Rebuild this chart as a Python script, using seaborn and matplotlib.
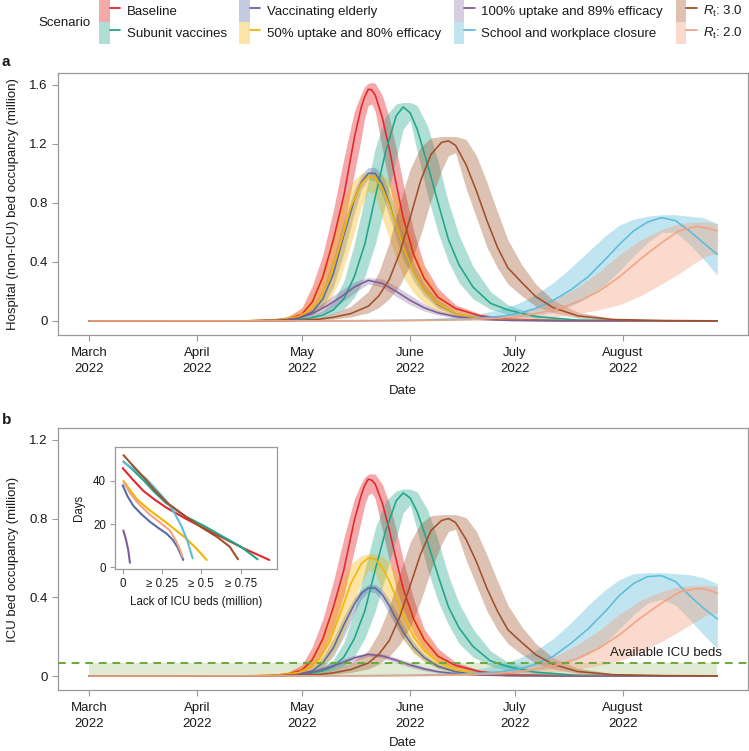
import numpy as np
import pandas as pd
import matplotlib
matplotlib.use("Agg")
import matplotlib.pyplot as plt
import seaborn as sns
from matplotlib.patches import Patch
from matplotlib.lines import Line2D
from matplotlib.legend_handler import HandlerTuple

# ---------------- data ----------------
scenarios = ["Baseline", "Subunit vaccines", "Vaccinating elderly",
             "50% uptake and 80% efficacy", "100% uptake and 89% efficacy",
             "School and workplace closure", "Rt: 3.0", "Rt: 2.0"]
legend_labels = ["Baseline", "Subunit vaccines", "Vaccinating elderly",
                 "50% uptake and 80% efficacy", "100% uptake and 89% efficacy",
                 "School and workplace closure", r"$R_\mathrm{t}$: 3.0", r"$R_\mathrm{t}$: 2.0"]
colors = {"Baseline": "#E4262C", "Subunit vaccines": "#1FA68A",
          "Vaccinating elderly": "#5A6CA6", "50% uptake and 80% efficacy": "#F4B400",
          "100% uptake and 89% efficacy": "#7E5C98", "School and workplace closure": "#5DBCD9",
          "Rt: 3.0": "#A0502A", "Rt: 2.0": "#F2A383"}
band_alpha = {"Baseline": 0.4, "Subunit vaccines": 0.36, "Vaccinating elderly": 0.35,
              "50% uptake and 80% efficacy": 0.35, "100% uptake and 89% efficacy": 0.3,
              "School and workplace closure": 0.38, "Rt: 3.0": 0.35, "Rt: 2.0": 0.4}

start_date = "2022-03-01"
month_ticks = ["2022-03-01", "2022-04-01", "2022-05-01", "2022-06-01", "2022-07-01", "2022-08-01"]
month_labels = ["March\n2022", "April\n2022", "May\n2022", "June\n2022", "July\n2022", "August\n2022"]
icu_capacity = 0.065

# Baseline
days_base = [0, 45, 52, 57, 61, 64, 67, 70, 73, 76, 78, 79, 80, 81, 82, 84, 86, 88, 90, 93, 96, 100, 105, 112, 120, 135, 160, 180]
hosp_base = [0, 0, 0.005, 0.015, 0.045, 0.13, 0.30, 0.55, 0.85, 1.24, 1.45, 1.52, 1.57, 1.565, 1.53, 1.38, 1.17, 0.93, 0.70, 0.45, 0.29, 0.16, 0.085, 0.035, 0.012, 0.003, 0.001, 0]
hosp_base_lo = [0, 0, 0.003, 0.01, 0.025, 0.07, 0.19, 0.38, 0.64, 1.0, 1.24, 1.38, 1.46, 1.47, 1.42, 1.17, 0.93, 0.70, 0.53, 0.34, 0.21, 0.12, 0.065, 0.025, 0.008, 0.001, 0, 0]
hosp_base_hi = [0, 0.002, 0.008, 0.03, 0.09, 0.24, 0.45, 0.75, 1.1, 1.42, 1.54, 1.59, 1.61, 1.615, 1.61, 1.53, 1.38, 1.17, 0.93, 0.61, 0.38, 0.22, 0.11, 0.048, 0.018, 0.005, 0.002, 0.001]
icu_base = [0, 0, 0.003, 0.01, 0.03, 0.083, 0.19, 0.35, 0.54, 0.79, 0.92, 0.97, 1.0, 0.995, 0.975, 0.88, 0.745, 0.59, 0.445, 0.29, 0.185, 0.10, 0.054, 0.022, 0.008, 0.002, 0.001, 0]
icu_base_lo = [0, 0, 0.002, 0.006, 0.016, 0.045, 0.12, 0.24, 0.41, 0.64, 0.79, 0.87, 0.92, 0.93, 0.90, 0.745, 0.59, 0.445, 0.34, 0.215, 0.135, 0.075, 0.04, 0.016, 0.005, 0.001, 0, 0]
icu_base_hi = [0, 0.001, 0.005, 0.02, 0.057, 0.15, 0.29, 0.48, 0.70, 0.90, 0.98, 1.01, 1.025, 1.028, 1.025, 0.975, 0.88, 0.745, 0.59, 0.39, 0.24, 0.14, 0.07, 0.03, 0.011, 0.003, 0.001, 0.001]

# Subunit vaccines
days_sub = [0, 50, 58, 63, 67, 70, 73, 76, 79, 82, 85, 88, 90, 92, 94, 97, 100, 103, 106, 110, 115, 120, 128, 140, 160, 180]
hosp_sub = [0, 0.001, 0.006, 0.018, 0.04, 0.075, 0.15, 0.30, 0.52, 0.84, 1.15, 1.39, 1.45, 1.41, 1.30, 1.06, 0.80, 0.55, 0.38, 0.23, 0.12, 0.075, 0.03, 0.006, 0.001, 0]
hosp_sub_lo = [0, 0, 0.003, 0.01, 0.025, 0.045, 0.08, 0.16, 0.30, 0.52, 0.80, 1.10, 1.30, 1.36, 1.15, 0.85, 0.60, 0.40, 0.26, 0.15, 0.08, 0.045, 0.015, 0.003, 0, 0]
hosp_sub_hi = [0, 0.003, 0.012, 0.03, 0.07, 0.13, 0.27, 0.52, 0.84, 1.17, 1.39, 1.47, 1.48, 1.48, 1.46, 1.32, 1.08, 0.80, 0.58, 0.37, 0.20, 0.11, 0.04, 0.01, 0.002, 0.001]
icu_sub = [0, 0.001, 0.004, 0.012, 0.026, 0.048, 0.096, 0.19, 0.33, 0.54, 0.74, 0.89, 0.93, 0.905, 0.835, 0.68, 0.51, 0.35, 0.245, 0.15, 0.077, 0.048, 0.019, 0.004, 0.001, 0]
icu_sub_lo = [0, 0, 0.002, 0.006, 0.016, 0.029, 0.051, 0.10, 0.19, 0.33, 0.51, 0.70, 0.83, 0.87, 0.74, 0.54, 0.38, 0.26, 0.166, 0.096, 0.051, 0.029, 0.01, 0.002, 0, 0]
icu_sub_hi = [0, 0.002, 0.008, 0.019, 0.045, 0.083, 0.17, 0.33, 0.54, 0.75, 0.89, 0.94, 0.95, 0.95, 0.935, 0.845, 0.69, 0.51, 0.37, 0.24, 0.128, 0.07, 0.026, 0.006, 0.001, 0.001]

# Vaccinating elderly
days_eld = [0, 45, 55, 60, 64, 67, 70, 73, 76, 78, 80, 82, 84, 86, 88, 90, 93, 96, 100, 105, 112, 120, 140, 180]
hosp_eld = [0, 0, 0.006, 0.02, 0.06, 0.15, 0.32, 0.58, 0.82, 0.94, 1.0, 1.0, 0.93, 0.80, 0.65, 0.50, 0.33, 0.21, 0.11, 0.05, 0.018, 0.006, 0.001, 0]
hosp_eld_lo = [0, 0, 0.004, 0.014, 0.04, 0.10, 0.23, 0.46, 0.73, 0.89, 0.96, 0.95, 0.85, 0.71, 0.56, 0.42, 0.27, 0.17, 0.085, 0.038, 0.013, 0.004, 0, 0]
hosp_eld_hi = [0, 0.001, 0.009, 0.03, 0.09, 0.22, 0.42, 0.68, 0.89, 0.99, 1.04, 1.04, 0.99, 0.88, 0.73, 0.58, 0.39, 0.25, 0.14, 0.065, 0.024, 0.008, 0.002, 0.001]
icu_eld = [0, 0, 0.003, 0.009, 0.027, 0.067, 0.143, 0.26, 0.365, 0.42, 0.447, 0.447, 0.415, 0.357, 0.29, 0.223, 0.147, 0.094, 0.049, 0.022, 0.008, 0.003, 0, 0]
icu_eld_lo = [0, 0, 0.002, 0.006, 0.018, 0.045, 0.10, 0.20, 0.32, 0.39, 0.428, 0.424, 0.38, 0.315, 0.25, 0.187, 0.12, 0.076, 0.038, 0.017, 0.006, 0.002, 0, 0]
icu_eld_hi = [0, 0.001, 0.004, 0.013, 0.04, 0.10, 0.19, 0.305, 0.40, 0.44, 0.465, 0.465, 0.44, 0.39, 0.325, 0.258, 0.174, 0.112, 0.062, 0.029, 0.011, 0.004, 0.001, 0]

# 50% uptake and 80% efficacy
days_half = [0, 45, 55, 60, 63, 66, 69, 72, 75, 78, 80, 82, 84, 86, 88, 90, 93, 96, 100, 105, 112, 120, 140, 180]
hosp_half = [0, 0.001, 0.01, 0.03, 0.07, 0.14, 0.29, 0.52, 0.77, 0.93, 0.98, 0.97, 0.90, 0.79, 0.65, 0.50, 0.33, 0.21, 0.115, 0.05, 0.017, 0.005, 0.001, 0]
hosp_half_lo = [0, 0, 0.005, 0.016, 0.035, 0.07, 0.14, 0.29, 0.52, 0.77, 0.88, 0.86, 0.70, 0.56, 0.42, 0.30, 0.19, 0.12, 0.065, 0.028, 0.009, 0.003, 0, 0]
hosp_half_hi = [0, 0.003, 0.02, 0.06, 0.14, 0.29, 0.52, 0.77, 0.93, 1.0, 1.01, 1.01, 0.99, 0.95, 0.86, 0.73, 0.53, 0.35, 0.19, 0.085, 0.03, 0.01, 0.002, 0.001]
icu_half = [0, 0.001, 0.006, 0.018, 0.043, 0.086, 0.177, 0.318, 0.47, 0.57, 0.60, 0.594, 0.55, 0.483, 0.398, 0.306, 0.20, 0.128, 0.07, 0.031, 0.01, 0.003, 0.001, 0]
icu_half_lo = [0, 0, 0.003, 0.01, 0.021, 0.043, 0.086, 0.177, 0.318, 0.47, 0.54, 0.527, 0.43, 0.343, 0.257, 0.184, 0.116, 0.073, 0.04, 0.017, 0.006, 0.002, 0, 0]
icu_half_hi = [0, 0.002, 0.012, 0.037, 0.086, 0.177, 0.318, 0.47, 0.57, 0.612, 0.62, 0.62, 0.606, 0.58, 0.526, 0.447, 0.324, 0.214, 0.116, 0.052, 0.018, 0.006, 0.001, 0.001]

# 100% uptake and 89% efficacy
days_full = [0, 45, 55, 60, 64, 68, 72, 76, 80, 84, 88, 92, 96, 100, 105, 112, 120, 140, 180]
hosp_full = [0, 0.001, 0.006, 0.02, 0.05, 0.10, 0.16, 0.23, 0.275, 0.255, 0.20, 0.14, 0.09, 0.055, 0.03, 0.012, 0.004, 0.001, 0]
hosp_full_lo = [0, 0, 0.003, 0.012, 0.03, 0.065, 0.12, 0.19, 0.25, 0.23, 0.165, 0.11, 0.068, 0.04, 0.02, 0.008, 0.002, 0, 0]
hosp_full_hi = [0, 0.002, 0.01, 0.03, 0.075, 0.14, 0.205, 0.265, 0.295, 0.285, 0.235, 0.175, 0.117, 0.074, 0.042, 0.018, 0.007, 0.002, 0.001]
icu_full = [0, 0, 0.002, 0.008, 0.02, 0.04, 0.064, 0.092, 0.11, 0.102, 0.08, 0.056, 0.036, 0.022, 0.012, 0.005, 0.002, 0, 0]
icu_full_lo = [0, 0, 0.001, 0.005, 0.012, 0.026, 0.048, 0.076, 0.10, 0.092, 0.066, 0.044, 0.027, 0.016, 0.008, 0.003, 0.001, 0, 0]
icu_full_hi = [0, 0.001, 0.004, 0.012, 0.03, 0.056, 0.082, 0.106, 0.118, 0.114, 0.094, 0.07, 0.047, 0.03, 0.017, 0.007, 0.003, 0.001, 0]

# School and workplace closure
days_close = [0, 60, 80, 95, 105, 112, 118, 123, 128, 133, 138, 143, 148, 152, 156, 160, 164, 168, 172, 176, 180]
hosp_close = [0, 0.001, 0.002, 0.005, 0.011, 0.02, 0.032, 0.05, 0.085, 0.14, 0.21, 0.30, 0.42, 0.52, 0.61, 0.67, 0.70, 0.68, 0.61, 0.53, 0.45]
hosp_close_lo = [0, 0, 0.001, 0.002, 0.004, 0.008, 0.013, 0.02, 0.035, 0.06, 0.10, 0.16, 0.25, 0.34, 0.44, 0.53, 0.60, 0.60, 0.52, 0.42, 0.31]
hosp_close_hi = [0, 0.002, 0.005, 0.012, 0.03, 0.05, 0.08, 0.12, 0.18, 0.26, 0.36, 0.47, 0.58, 0.65, 0.69, 0.71, 0.72, 0.72, 0.71, 0.70, 0.66]
icu_close = [0, 0.001, 0.002, 0.004, 0.008, 0.014, 0.022, 0.035, 0.06, 0.10, 0.165, 0.24, 0.33, 0.41, 0.47, 0.505, 0.51, 0.48, 0.41, 0.345, 0.29]
icu_close_lo = [0, 0, 0.001, 0.002, 0.003, 0.006, 0.01, 0.015, 0.025, 0.042, 0.07, 0.11, 0.17, 0.24, 0.31, 0.37, 0.39, 0.36, 0.29, 0.21, 0.14]
icu_close_hi = [0, 0.002, 0.004, 0.01, 0.022, 0.038, 0.06, 0.09, 0.13, 0.19, 0.27, 0.36, 0.44, 0.49, 0.52, 0.525, 0.525, 0.52, 0.515, 0.50, 0.47]

# Rt 3.0
days_rt3 = [0, 50, 60, 66, 70, 75, 80, 83, 86, 89, 92, 95, 98, 101, 103, 105, 108, 111, 114, 117, 120, 124, 128, 133, 140, 150, 165, 180]
hosp_rt3 = [0, 0.001, 0.004, 0.012, 0.025, 0.05, 0.10, 0.17, 0.28, 0.46, 0.70, 0.95, 1.13, 1.21, 1.22, 1.19, 1.06, 0.88, 0.68, 0.50, 0.36, 0.26, 0.165, 0.09, 0.035, 0.01, 0.003, 0.001]
hosp_rt3_lo = [0, 0, 0.002, 0.006, 0.013, 0.027, 0.055, 0.09, 0.15, 0.24, 0.38, 0.58, 0.82, 1.02, 1.12, 1.14, 0.90, 0.70, 0.50, 0.36, 0.25, 0.17, 0.10, 0.055, 0.02, 0.005, 0.001, 0]
hosp_rt3_hi = [0, 0.003, 0.01, 0.025, 0.05, 0.10, 0.20, 0.33, 0.53, 0.80, 1.03, 1.18, 1.24, 1.25, 1.25, 1.25, 1.23, 1.12, 0.94, 0.74, 0.55, 0.38, 0.25, 0.14, 0.06, 0.018, 0.005, 0.002]
icu_rt3 = [0, 0.001, 0.003, 0.008, 0.016, 0.033, 0.066, 0.11, 0.18, 0.30, 0.46, 0.62, 0.74, 0.79, 0.80, 0.78, 0.695, 0.58, 0.445, 0.33, 0.235, 0.17, 0.108, 0.059, 0.023, 0.007, 0.002, 0.001]
icu_rt3_lo = [0, 0, 0.001, 0.004, 0.009, 0.018, 0.036, 0.06, 0.10, 0.16, 0.25, 0.38, 0.54, 0.67, 0.735, 0.745, 0.59, 0.46, 0.33, 0.235, 0.165, 0.11, 0.066, 0.036, 0.013, 0.003, 0.001, 0]
icu_rt3_hi = [0, 0.002, 0.007, 0.016, 0.033, 0.066, 0.13, 0.22, 0.35, 0.52, 0.68, 0.775, 0.815, 0.82, 0.82, 0.82, 0.805, 0.735, 0.615, 0.485, 0.36, 0.25, 0.165, 0.092, 0.04, 0.012, 0.003, 0.001]

# Rt 2.0
days_rt2 = [0, 60, 80, 95, 105, 112, 118, 123, 128, 134, 140, 146, 152, 158, 164, 169, 174, 177, 180]
hosp_rt2 = [0, 0.001, 0.002, 0.004, 0.008, 0.013, 0.02, 0.03, 0.05, 0.08, 0.13, 0.20, 0.30, 0.42, 0.53, 0.61, 0.64, 0.63, 0.61]
hosp_rt2_lo = [0, 0, 0.001, 0.002, 0.003, 0.005, 0.008, 0.012, 0.02, 0.03, 0.05, 0.075, 0.11, 0.17, 0.25, 0.32, 0.40, 0.44, 0.46]
hosp_rt2_hi = [0, 0.002, 0.004, 0.008, 0.016, 0.026, 0.04, 0.06, 0.095, 0.15, 0.23, 0.33, 0.45, 0.55, 0.62, 0.66, 0.67, 0.67, 0.66]
icu_rt2 = [0, 0.001, 0.001, 0.003, 0.006, 0.009, 0.014, 0.021, 0.035, 0.056, 0.09, 0.14, 0.21, 0.295, 0.37, 0.425, 0.445, 0.44, 0.42]
icu_rt2_lo = [0, 0, 0.001, 0.001, 0.002, 0.004, 0.006, 0.008, 0.014, 0.021, 0.035, 0.053, 0.077, 0.12, 0.175, 0.225, 0.28, 0.31, 0.32]
icu_rt2_hi = [0, 0.001, 0.003, 0.006, 0.011, 0.018, 0.028, 0.042, 0.066, 0.105, 0.16, 0.23, 0.315, 0.385, 0.43, 0.455, 0.46, 0.46, 0.455]

# Inset: days with lack of ICU beds above threshold
lack_base = [0.0, 0.06, 0.13, 0.2, 0.28, 0.4, 0.52, 0.64, 0.76, 0.85, 0.932]
lackdays_base = [46, 41, 35.5, 31.5, 27.5, 22.5, 18, 13.5, 9, 6, 3.3]
lack_sub = [0.005, 0.06, 0.13, 0.2, 0.28, 0.4, 0.52, 0.64, 0.75, 0.858]
lackdays_sub = [49, 45.5, 40.5, 35, 29.5, 23.5, 19, 14, 9.5, 3.6]
lack_eld = [0.0, 0.03, 0.067, 0.12, 0.174, 0.23, 0.28, 0.32, 0.35, 0.385]
lackdays_eld = [38, 33, 28.5, 24.5, 21, 18, 15.5, 12.5, 9, 3.3]
lack_half = [0.005, 0.04, 0.09, 0.17, 0.28, 0.4, 0.47, 0.534]
lackdays_half = [40, 36.5, 31.5, 26.5, 20.5, 13.5, 8.5, 3.3]
lack_full = [0.004, 0.02, 0.035, 0.046]
lackdays_full = [17, 13, 8, 2]
lack_close = [0.01, 0.08, 0.15, 0.22, 0.28, 0.33, 0.37, 0.41, 0.445]
lackdays_close = [48.5, 45, 41, 35.5, 30.5, 25, 19.5, 12.5, 4]
lack_rt3 = [0.005, 0.06, 0.13, 0.2, 0.28, 0.4, 0.5, 0.6, 0.68, 0.733]
lackdays_rt3 = [52, 47.5, 42, 36, 30, 23.5, 18.5, 14, 9.5, 3.6]
lack_rt2 = [0.005, 0.05, 0.1, 0.17, 0.24, 0.3, 0.34, 0.365, 0.38]
lackdays_rt2 = [39.5, 34, 29.5, 24.5, 20.5, 17, 12, 8, 4.8]

series = {
    "Baseline": (days_base, hosp_base, hosp_base_lo, hosp_base_hi, icu_base, icu_base_lo, icu_base_hi, lack_base, lackdays_base),
    "Subunit vaccines": (days_sub, hosp_sub, hosp_sub_lo, hosp_sub_hi, icu_sub, icu_sub_lo, icu_sub_hi, lack_sub, lackdays_sub),
    "Vaccinating elderly": (days_eld, hosp_eld, hosp_eld_lo, hosp_eld_hi, icu_eld, icu_eld_lo, icu_eld_hi, lack_eld, lackdays_eld),
    "50% uptake and 80% efficacy": (days_half, hosp_half, hosp_half_lo, hosp_half_hi, icu_half, icu_half_lo, icu_half_hi, lack_half, lackdays_half),
    "100% uptake and 89% efficacy": (days_full, hosp_full, hosp_full_lo, hosp_full_hi, icu_full, icu_full_lo, icu_full_hi, lack_full, lackdays_full),
    "School and workplace closure": (days_close, hosp_close, hosp_close_lo, hosp_close_hi, icu_close, icu_close_lo, icu_close_hi, lack_close, lackdays_close),
    "Rt: 3.0": (days_rt3, hosp_rt3, hosp_rt3_lo, hosp_rt3_hi, icu_rt3, icu_rt3_lo, icu_rt3_hi, lack_rt3, lackdays_rt3),
    "Rt: 2.0": (days_rt2, hosp_rt2, hosp_rt2_lo, hosp_rt2_hi, icu_rt2, icu_rt2_lo, icu_rt2_hi, lack_rt2, lackdays_rt2),
}

# ---------------- build tables ----------------
t0 = pd.Timestamp(start_date)
rows_a, rows_b, rows_in = [], [], []
for s in scenarios:
    d, ha, hl, hh, ia, il, ih, lx, ly = series[s]
    dates = t0 + pd.to_timedelta(np.array(d, dtype=float), unit="D")
    rows_a.append(pd.DataFrame({"date": dates, "value": ha, "lo": hl, "hi": hh, "scenario": s}))
    rows_b.append(pd.DataFrame({"date": dates, "value": ia, "lo": il, "hi": ih, "scenario": s}))
    rows_in.append(pd.DataFrame({"lack": lx, "days": ly, "scenario": s}))
df_a = pd.concat(rows_a, ignore_index=True)
df_b = pd.concat(rows_b, ignore_index=True)
df_in = pd.concat(rows_in, ignore_index=True)

# ---------------- style ----------------
sns.set_theme(style="white")
plt.rcParams["font.family"] = ["Liberation Sans", "DejaVu Sans"]
plt.rcParams["mathtext.fontset"] = "custom"
plt.rcParams["mathtext.rm"] = "Liberation Sans"
plt.rcParams["mathtext.it"] = "Liberation Sans:italic"
plt.rcParams["text.color"] = "#1a1a1a"
plt.rcParams["axes.labelcolor"] = "#1a1a1a"

W, H = 749, 751
fig = plt.figure(figsize=(W / 100, H / 100), dpi=100)
ax_a = fig.add_axes([58 / W, 1 - 335 / H, 690 / W, 262 / H])
ax_b = fig.add_axes([58 / W, 1 - 690 / H, 690 / W, 262 / H])

spine_col = "#9a9a9a"
FS = 9.5


def style_axes(ax, fs, ticklen, xpad=3):
    for sp in ax.spines.values():
        sp.set_visible(True)
        sp.set_color(spine_col)
        sp.set_linewidth(0.9)
    ax.tick_params(axis="both", which="both", bottom=True, left=True, direction="out",
                   length=ticklen, width=0.8, color=spine_col, labelsize=fs,
                   labelcolor="#1a1a1a", pad=3)
    ax.tick_params(axis="x", pad=xpad)


def draw_panel(ax, df, ylim, yticks, ylabel, xlabelpad):
    for s in scenarios:
        sub = df[df["scenario"] == s]
        ax.fill_between(sub["date"], sub["lo"], sub["hi"], color=colors[s],
                        alpha=band_alpha[s], linewidth=0, zorder=1)
    sns.lineplot(data=df, x="date", y="value", hue="scenario", hue_order=scenarios,
                 palette=colors, estimator=None, sort=False, legend=False,
                 linewidth=1.15, ax=ax, zorder=3)
    ax.set_xlim(t0 - pd.Timedelta(days=8.9), t0 + pd.Timedelta(days=188.8))
    ax.set_ylim(*ylim)
    ax.set_xticks(pd.to_datetime(month_ticks))
    ax.set_xticklabels(month_labels, linespacing=1.45)
    ax.set_yticks(yticks)
    ax.set_yticklabels(["0" if v == 0 else f"{v:.1f}" for v in yticks])
    ax.set_xlabel("Date", fontsize=FS, labelpad=xlabelpad)
    ax.set_ylabel(ylabel, fontsize=FS, labelpad=7)
    style_axes(ax, FS, 4.5, xpad=4.2)


draw_panel(ax_a, df_a, (-0.095, 1.68), [0, 0.4, 0.8, 1.2, 1.6],
           "Hospital (non-ICU) bed occupancy (million)", 7.0)

# ICU capacity band and line (panel b)
ax_b.fill_between([t0, t0 + pd.Timedelta(days=180)], [0, 0], [icu_capacity, icu_capacity],
                  color="#8DBB63", alpha=0.28, linewidth=0, zorder=0.5)
draw_panel(ax_b, df_b, (-0.071, 1.26), [0, 0.4, 0.8, 1.2], "ICU bed occupancy (million)", 5.0)
ax_b.axhline(icu_capacity, color="#6AA83A", lw=1.4, ls=(0, (4, 3)), zorder=4)
ax_b.text(t0 + pd.Timedelta(days=149.3), 0.118, "Available ICU beds", fontsize=FS,
          ha="left", va="center", color="#1a1a1a")

# ---------------- inset ----------------
ax_in = fig.add_axes([115 / W, 1 - 569 / H, 162 / W, 122 / H])
ax_in.set_facecolor("white")
sns.lineplot(data=df_in, x="lack", y="days", hue="scenario", hue_order=scenarios,
             palette=colors, estimator=None, sort=False, legend=False, linewidth=1.5, ax=ax_in)
ax_in.set_xlim(-0.049, 0.981)
ax_in.set_ylim(-0.9, 55.8)
ax_in.set_xticks([0, 0.25, 0.5, 0.75])
ax_in.set_xticklabels(["0", "≥ 0.25", "≥ 0.5", "≥ 0.75"])
ax_in.set_yticks([0, 20, 40])
ax_in.set_xlabel("Lack of ICU beds (million)", fontsize=8.3, labelpad=4)
ax_in.set_ylabel("Days", fontsize=8.3, labelpad=6)
style_axes(ax_in, 8.3, 3.5)

# ---------------- legend & labels ----------------
handles = []
for s in scenarios:
    handles.append((Patch(facecolor=colors[s], alpha=band_alpha[s], edgecolor="none"),
                    Line2D([], [], color=colors[s], lw=1.3)))
fig.legend(handles, legend_labels, loc="upper left", bbox_to_anchor=(99 / W, 1.0),
           ncol=4, frameon=False, borderpad=0, borderaxespad=0, handlelength=1.6,
           handleheight=2.19, handletextpad=0.5, labelspacing=0, columnspacing=0.95,
           fontsize=FS, handler_map={tuple: HandlerTuple(ndivide=None, pad=0)})
fig.text(38 / W, 1 - 23 / H, "Scenario", fontsize=FS, ha="left", va="center")
fig.text(2 / W, 1 - 62 / H, "a", fontsize=11, fontweight="bold", ha="left", va="center")
fig.text(2 / W, 1 - 420 / H, "b", fontsize=11, fontweight="bold", ha="left", va="center")

fig.savefig("out.png", dpi=100)
